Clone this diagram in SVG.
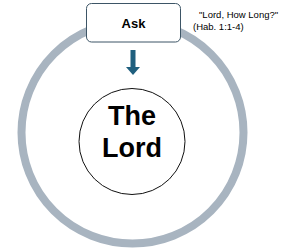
<svg xmlns="http://www.w3.org/2000/svg" width="300" height="250" viewBox="0 0 300 250">
<style>
.t{font-family:"Liberation Sans",Arial,sans-serif;fill:#000}
.b{font-weight:bold}
</style>
<rect width="300" height="250" fill="#fff"/>
<g id="ring"><circle cx="132.5" cy="132.5" r="111" fill="none" stroke="#a8b4c0" stroke-width="8"/></g>
<g id="lord"><circle cx="132" cy="141.5" r="53" fill="#fff" stroke="#111" stroke-width="1"/>
<text class="t b" x="132" y="125" font-size="27" text-anchor="middle">The</text>
<text class="t b" x="132" y="157" font-size="27" text-anchor="middle">Lord</text></g>
<g id="ask"><rect x="86.5" y="3.5" width="94" height="38.5" rx="5" fill="#fff" stroke="#3d5566" stroke-width="1"/>
<text class="t b" x="133.5" y="27.5" font-size="13" text-anchor="middle">Ask</text></g>
<g id="connectors"><path d="M130.5 50 h5 v17 h4.5 l-7 8 l-7 -8 h4.5 z" fill="#1f5f7e"/></g>
<g id="note"><text class="t" x="199" y="18" font-size="9.5">"Lord, How Long?"</text>
<text class="t" x="193" y="30" font-size="9.5">(Hab. 1:1-4)</text></g>
</svg>
